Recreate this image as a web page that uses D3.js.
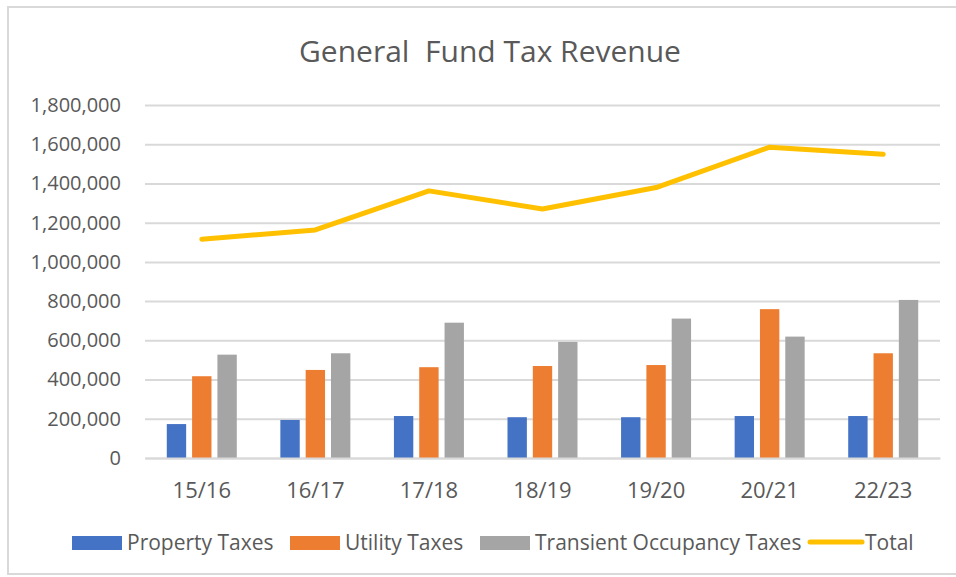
<!DOCTYPE html>
<html lang="en">
<head>
<meta charset="utf-8">
<title>General Fund Tax Revenue</title>
<script src="https://cdn.jsdelivr.net/npm/d3@7"></script>
<style>
  body { margin: 0; background: #fff; }
  svg text { font-family: "Open Sans", "Liberation Sans", sans-serif; fill: #595959; }
</style>
</head>
<body>
<script>
// data
var years = ["15/16", "16/17", "17/18", "18/19", "19/20", "20/21", "22/23"];
var propertyTaxes = [173000, 194000, 214000, 208000, 208000, 214000, 214000];
var utilityTaxes = [417000, 449000, 463000, 469000, 474000, 759000, 534000];
var transientTaxes = [527000, 534000, 690000, 592000, 711000, 619000, 806000];
var totals = [1116000, 1163000, 1362000, 1270000, 1379000, 1585000, 1549000];
var yTicks = [0, 200000, 400000, 600000, 800000, 1000000, 1200000, 1400000, 1600000, 1800000];

var seriesNames = ["Property Taxes", "Utility Taxes", "Transient Occupancy Taxes"];
var seriesValues = [propertyTaxes, utilityTaxes, transientTaxes];
var colors = ["#4472C4", "#ED7D31", "#A5A5A5"];
var lineColor = "#FFC000";

var w = 956, h = 577;
var plotLeft = 145, plotRight = 940, plotTop = 105, plotBottom = 458;

var svg = d3.select("body").append("svg")
  .attr("width", w)
  .attr("height", h);

// chart frame
svg.append("rect")
  .attr("x", 8).attr("y", 7)
  .attr("width", 980).attr("height", 567)
  .attr("fill", "#fff")
  .attr("stroke", "#d9d9d9")
  .attr("stroke-width", 2);

svg.append("text")
  .attr("x", 490).attr("y", 62)
  .attr("text-anchor", "middle")
  .attr("font-size", "30px")
  .style("white-space", "pre")
  .text("General  Fund Tax Revenue");

var y = d3.scaleLinear().domain([0, 1800000]).range([plotBottom, plotTop]);
var x0 = d3.scaleBand().domain(years).range([plotLeft, plotRight]);
var x1 = d3.scaleBand().domain(seriesNames).range([-35, 35]).paddingInner(0.235);

// gridlines + y labels
var yAxis = svg.append("g")
  .attr("transform", "translate(" + plotLeft + ",0)")
  .call(d3.axisLeft(y).tickValues(yTicks).tickFormat(d3.format(","))
    .tickSize(-(plotRight - plotLeft)).tickPadding(24));
yAxis.select(".domain").remove();
yAxis.selectAll("line").attr("stroke", "#d9d9d9").attr("stroke-width", 2);
yAxis.selectAll("text").attr("font-size", "20px").attr("font-family", null).attr("fill", "#595959");

// bars
seriesNames.forEach(function(name, s) {
  svg.append("g").selectAll("rect")
    .data(seriesValues[s])
    .enter()
    .append("rect")
    .attr("x", function(d, i) { return x0(years[i]) + x0.bandwidth() / 2 + x1(name); })
    .attr("y", function(d) { return y(d); })
    .attr("width", x1.bandwidth())
    .attr("height", function(d) { return y(0) - y(d); })
    .attr("fill", colors[s]);
});

// x axis
var xAxis = svg.append("g")
  .attr("transform", "translate(0," + plotBottom + ")")
  .call(d3.axisBottom(x0).tickSize(0).tickPadding(24));
xAxis.select(".domain").attr("stroke", "#d9d9d9").attr("stroke-width", 2);
xAxis.selectAll("text").attr("font-size", "22px").attr("font-family", null).attr("fill", "#595959");

// total line
var line = d3.line()
  .x(function(d, i) { return x0(years[i]) + x0.bandwidth() / 2; })
  .y(function(d) { return y(d); });

svg.append("path")
  .datum(totals)
  .attr("d", line)
  .attr("fill", "none")
  .attr("stroke", lineColor)
  .attr("stroke-width", 5)
  .attr("stroke-linejoin", "round")
  .attr("stroke-linecap", "round");

// legend
var legendItems = [
  { name: "Property Taxes", color: colors[0], x: 72 },
  { name: "Utility Taxes", color: colors[1], x: 290 },
  { name: "Transient Occupancy Taxes", color: colors[2], x: 480 },
  { name: "Total", color: lineColor, x: 810, line: true }
];
var legend = svg.append("g");
legendItems.forEach(function(item) {
  if (item.line) {
    legend.append("line")
      .attr("x1", item.x).attr("x2", item.x + 52)
      .attr("y1", 542).attr("y2", 542)
      .attr("stroke", item.color).attr("stroke-width", 5)
      .attr("stroke-linecap", "round");
  } else {
    legend.append("rect")
      .attr("x", item.x).attr("y", 536)
      .attr("width", 50).attr("height", 14)
      .attr("fill", item.color);
  }
  legend.append("text")
    .attr("x", item.x + 55).attr("y", 550)
    .attr("font-size", "21px")
    .text(item.name);
});
</script>
</body>
</html>
